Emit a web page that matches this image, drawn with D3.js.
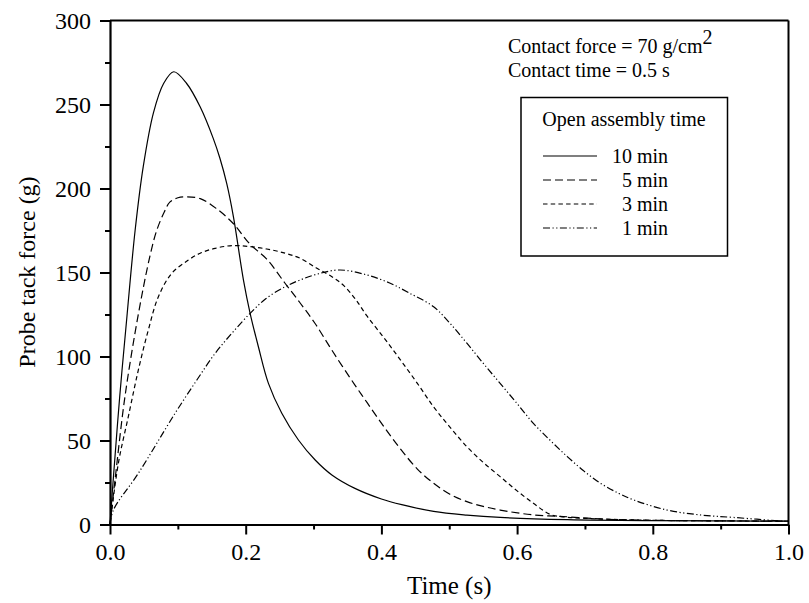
<!DOCTYPE html>
<html>
<head>
<meta charset="utf-8">
<script src="https://cdn.jsdelivr.net/npm/d3@7"></script>
<style>
  html, body { margin: 0; padding: 0; background: #fff; }
  svg { display: block; font-family: "Liberation Serif", "Times New Roman", serif; }
</style>
</head>
<body>
<svg id="chart" width="809" height="603"></svg>
<script>
// Probe tack force versus time for four open assembly times
const xTicks = [0, 0.2, 0.4, 0.6, 0.8, 1.0];
const yTicks = [0, 50, 100, 150, 200, 250, 300];
const seriesNames = ["10 min", "5 min", "3 min", "1 min"];

const time10 = [0, 0.005, 0.0143, 0.025, 0.037, 0.049, 0.064, 0.079, 0.094, 0.113, 0.133, 0.152, 0.162, 0.172, 0.182, 0.1967, 0.2065, 0.2187, 0.2335, 0.2532, 0.2777, 0.3024, 0.327, 0.361, 0.4, 0.43, 0.477, 0.526, 0.575, 0.674, 0.8, 1.0];
const force10 = [0, 28, 76, 124, 175, 213, 245, 262.5, 269.5, 262.5, 248.5, 230, 218, 203, 183, 145.5, 125.7, 105.8, 84, 66.2, 50.3, 38.4, 29.5, 21.5, 15.2, 11.8, 7.8, 5.6, 4.2, 2.9, 2.3, 2];

const time5 = [0, 0.0074, 0.022, 0.042, 0.059, 0.0688, 0.08, 0.0885, 0.1, 0.113, 0.133, 0.157, 0.182, 0.206, 0.231, 0.258, 0.28, 0.302, 0.329, 0.361, 0.379, 0.404, 0.428, 0.453, 0.477, 0.501, 0.526, 0.55, 0.575, 0.624, 0.674, 0.722, 0.8, 1.0];
const force5 = [0, 26.5, 76, 125.7, 160, 175, 186, 192, 194.5, 195, 194, 188, 179, 167, 158, 143.6, 132, 119.8, 102.5, 83, 72.5, 58, 45, 33, 24.5, 18, 13.6, 10.8, 8.6, 5.7, 4.6, 3.3, 2.5, 2];

const time3 = [0, 0.0123, 0.027, 0.0418, 0.0565, 0.0713, 0.091, 0.1155, 0.133, 0.155, 0.18, 0.206, 0.231, 0.258, 0.28, 0.305, 0.329, 0.345, 0.362, 0.379, 0.404, 0.428, 0.453, 0.477, 0.501, 0.526, 0.55, 0.575, 0.6, 0.624, 0.649, 0.67, 0.698, 0.8, 1.0];
const force3 = [0, 36.4, 64.2, 92, 115.8, 135.6, 149.5, 157.4, 161.5, 164.4, 166, 165.4, 164, 161.5, 158.5, 152.5, 147, 142, 134, 124, 111, 98, 84, 70, 58, 46.3, 37, 28.5, 20, 12.6, 6, 4.5, 3.7, 2.5, 2];

const time1 = [0, 0.005, 0.0418, 0.0959, 0.128, 0.155, 0.18, 0.2065, 0.23, 0.258, 0.28, 0.305, 0.339, 0.379, 0.413, 0.44, 0.477, 0.501, 0.526, 0.55, 0.575, 0.6, 0.624, 0.649, 0.674, 0.698, 0.723, 0.75, 0.772, 0.821, 0.87, 0.919, 0.998];
const force1 = [0, 8.6, 30.5, 66.2, 86, 101.9, 114, 125.7, 134.5, 141.5, 145.5, 149, 151.5, 148.5, 143.6, 138, 129.6, 119.8, 107.9, 96, 84, 72, 60.2, 50, 40.4, 32, 24.5, 18.5, 14.6, 8.6, 5.7, 4.2, 1.8];

const seriesTimes = [time10, time5, time3, time1];
const seriesForces = [force10, force5, force3, force1];
const seriesDash = [null, "8,4", "4.5,3.2", "7,2.5,1.2,2.5,1.2,2.5"];

const svg = d3.select("#chart");

const x = d3.scaleLinear().domain([0, 1]).range([110, 788.5]);
const y = d3.scaleLinear().domain([0, 300]).range([524.5, 20.5]);

// curves
const line = d3.line()
  .x(d => x(d[0]))
  .y(d => y(d[1]))
  .curve(d3.curveCatmullRom.alpha(0.5));

const plot = svg.append("g");
seriesTimes.forEach((ts, i) => {
  const pts = ts.map((t, j) => [t, seriesForces[i][j]]);
  plot.append("path")
    .datum(pts)
    .attr("d", line)
    .attr("fill", "none")
    .attr("stroke", "#000")
    .attr("stroke-width", 1.2)
    .attr("stroke-dasharray", seriesDash[i]);
});

// minor ticks
const xMinor = d3.range(0.1, 1.0, 0.2);
const yMinor = d3.range(25, 300, 50);
svg.append("g")
  .attr("transform", `translate(0,${y(0)})`)
  .call(d3.axisBottom(x).tickValues(xMinor).tickSize(5).tickFormat(""))
  .call(g => g.select(".domain").remove())
  .call(g => g.selectAll("line").attr("stroke-width", 2));
svg.append("g")
  .attr("transform", `translate(${x(0)},0)`)
  .call(d3.axisLeft(y).tickValues(yMinor).tickSize(5).tickFormat(""))
  .call(g => g.select(".domain").remove())
  .call(g => g.selectAll("line").attr("stroke-width", 2));

// major axes
const xAxis = svg.append("g")
  .attr("transform", `translate(0,${y(0)})`)
  .call(d3.axisBottom(x).tickValues(xTicks).tickSize(10).tickSizeOuter(0).tickPadding(8).tickFormat(d3.format(".1f")));
const yAxis = svg.append("g")
  .attr("transform", `translate(${x(0)},0)`)
  .call(d3.axisLeft(y).tickValues(yTicks).tickSize(10).tickSizeOuter(0).tickPadding(9).tickFormat(d3.format("d")));
[xAxis, yAxis].forEach(g => {
  g.select(".domain").attr("stroke-width", 2.2);
  g.selectAll(".tick line").attr("stroke-width", 2);
  g.selectAll(".tick text")
    .attr("font-family", "Liberation Serif, serif")
    .attr("font-size", 24)
    .attr("fill", "#000");
});

// frame top and right
svg.append("line").attr("x1", x(0)).attr("x2", x(1)).attr("y1", y(300)).attr("y2", y(300))
  .attr("stroke", "#000").attr("stroke-width", 2);
svg.append("line").attr("x1", x(1)).attr("x2", x(1)).attr("y1", y(300)).attr("y2", y(0))
  .attr("stroke", "#000").attr("stroke-width", 2);

// axis titles
svg.append("text")
  .attr("x", (x(0) + x(1)) / 2).attr("y", 594)
  .attr("text-anchor", "middle")
  .attr("font-size", 25)
  .text("Time (s)");
svg.append("text")
  .attr("transform", "translate(35,272) rotate(-90)")
  .attr("text-anchor", "middle")
  .attr("font-size", 24)
  .text("Probe tack force (g)");

// condition notes
const note1 = svg.append("text").attr("x", 508).attr("y", 53).attr("font-size", 20);
note1.append("tspan").text("Contact force = 70 g/cm");
note1.append("tspan").attr("dy", -9).attr("font-size", 20).text("2");
svg.append("text").attr("x", 508).attr("y", 77).attr("font-size", 20).text("Contact time = 0.5 s");

// legend
const lg = svg.append("g");
lg.append("rect")
  .attr("x", 521).attr("y", 97.5).attr("width", 206.5).attr("height", 158.5)
  .attr("fill", "#fff").attr("stroke", "#000").attr("stroke-width", 1.5);
lg.append("text").attr("x", 624).attr("y", 126).attr("text-anchor", "middle")
  .attr("font-size", 20).text("Open assembly time");
seriesNames.forEach((name, i) => {
  const yy = 163 + i * 24;
  lg.append("line")
    .attr("x1", 543).attr("x2", 597).attr("y1", yy - 7).attr("y2", yy - 7)
    .attr("stroke", "#000").attr("stroke-width", 1.2)
    .attr("stroke-dasharray", seriesDash[i]);
  lg.append("text").attr("x", 668).attr("y", yy).attr("text-anchor", "end")
    .attr("font-size", 20).text(name);
});
</script>
</body>
</html>
